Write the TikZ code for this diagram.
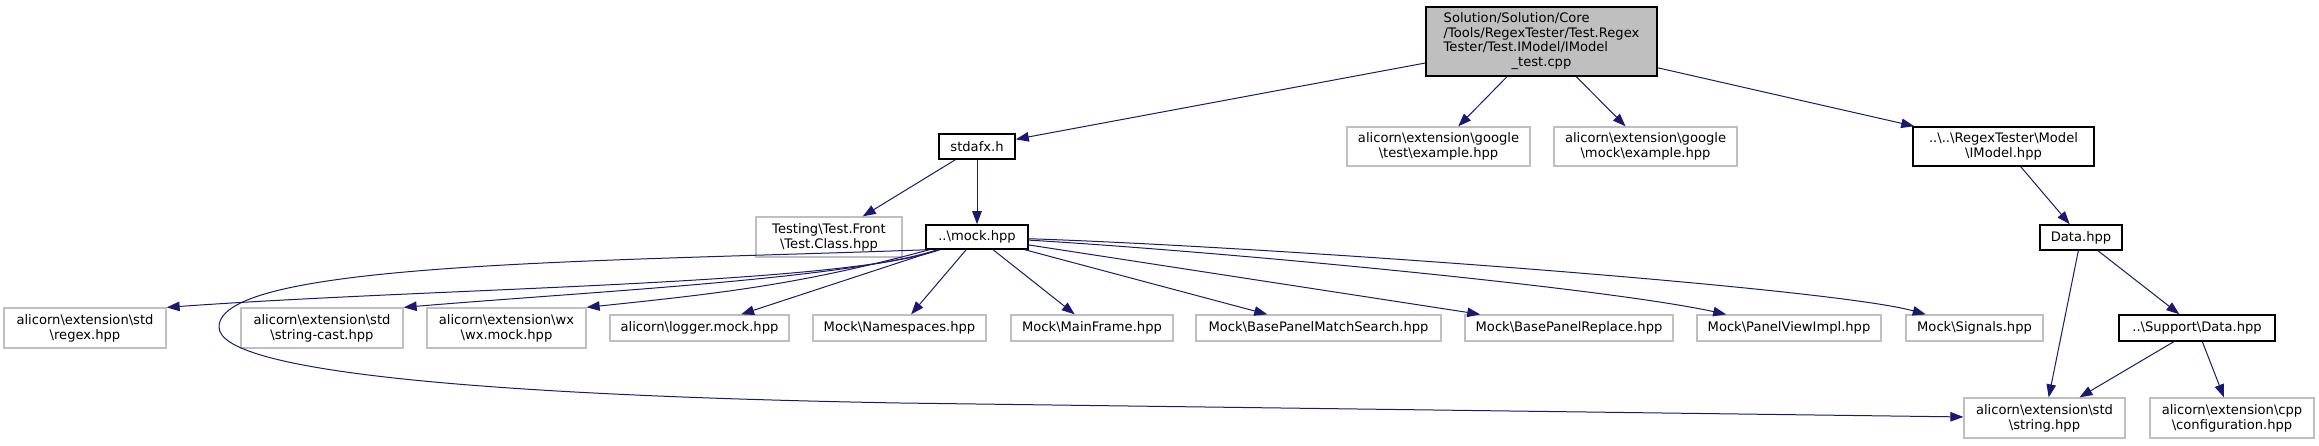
\documentclass[tikz,border=0pt]{standalone}
\usepackage{fontspec}
\setmainfont{DejaVu Sans}
\usetikzlibrary{arrows.meta}
\definecolor{edgeblue}{HTML}{191970}
\definecolor{boxgray}{HTML}{BFBFBF}
\newcommand{\bsl}{\textbackslash}

\begin{document}
\begin{tikzpicture}[
    x=1pt, y=-1pt,
    every node/.style={font=\fontsize{13.1}{14.8}\selectfont,
                       inner sep=0pt, align=center},
    sz/.style 2 args={minimum width=#1pt, minimum height=#2pt},
    docnode/.style={draw=black, line width=1.6pt, fill=white},
    extnode/.style={draw=boxgray, line width=1.3pt, fill=white},
    rootnode/.style={draw=black, line width=1.6pt, fill=boxgray},
    dep/.style={draw=edgeblue, line width=1pt,
                -{Triangle[length=13pt,width=9.5pt]}},
  ]
  \useasboundingbox (0,0) rectangle (2319,445);

  % top
  \node[rootnode, sz={231}{69}] (root) at (1541.5,41.5)
    {\begin{tabular}{@{}l@{}}Solution/Solution/Core\\
     /Tools/RegexTester/Test.Regex\\
     Tester/Test.IModel/IModel\\
     \multicolumn{1}{@{}c@{}}{\_test.cpp}\end{tabular}};

  % level 1
  \node[docnode, sz={76}{25}]  (stdafx) at (977,146.5) {stdafx.h};
  \node[extnode, sz={183}{39}] (gtest)  at (1438.5,146.5)
    {alicorn\bsl extension\bsl google\\\bsl test\bsl example.hpp};
  \node[extnode, sz={183}{39}] (gmock)  at (1645.5,146.5)
    {alicorn\bsl extension\bsl google\\\bsl mock\bsl example.hpp};
  \node[docnode, sz={181}{39}] (imodel) at (2003.5,146.5)
    {..\bsl ..\bsl RegexTester\bsl Model\\\bsl IModel.hpp};

  % level 2
  \node[extnode, sz={146}{40}] (testfront) at (829,237)
    {Testing\bsl Test.Front\\\bsl Test.Class.hpp};
  \node[docnode, sz={102}{24}] (mock) at (977,237) {..\bsl mock.hpp};
  \node[docnode, sz={82}{25}]  (data) at (2081,237.5) {Data.hpp};

  % level 3
  \node[extnode, sz={162}{40}] (regex)   at (85,328)
    {alicorn\bsl extension\bsl std\\\bsl regex.hpp};
  \node[extnode, sz={162}{40}] (strcast) at (322,328)
    {alicorn\bsl extension\bsl std\\\bsl string-cast.hpp};
  \node[extnode, sz={159}{40}] (wxmock)  at (506.5,328)
    {alicorn\bsl extension\bsl wx\\\bsl wx.mock.hpp};
  \node[extnode, sz={179}{26}] (logger)  at (699.5,328)
    {alicorn\bsl logger.mock.hpp};
  \node[extnode, sz={173}{26}] (namespaces)  at (899.5,328)
    {Mock\bsl Namespaces.hpp};
  \node[extnode, sz={162}{26}] (mainframe)   at (1092,328)
    {Mock\bsl MainFrame.hpp};
  \node[extnode, sz={245}{26}] (matchsearch) at (1318.5,328)
    {Mock\bsl BasePanelMatchSearch.hpp};
  \node[extnode, sz={208}{26}] (replace)     at (1569,328)
    {Mock\bsl BasePanelReplace.hpp};
  \node[extnode, sz={184}{26}] (panelview)   at (1789,328)
    {Mock\bsl PanelViewImpl.hpp};
  \node[extnode, sz={137}{26}] (signals)     at (1974.5,328)
    {Mock\bsl Signals.hpp};
  \node[docnode, sz={156}{26}] (supportdata) at (2197,328)
    {..\bsl Support\bsl Data.hpp};

  % level 4
  \node[extnode, sz={161}{40}] (string) at (2044.5,418)
    {alicorn\bsl extension\bsl std\\\bsl string.hpp};
  \node[extnode, sz={164}{40}] (config) at (2232,418)
    {alicorn\bsl extension\bsl cpp\\\bsl configuration.hpp};

  \coordinate (loopturn) at (219,327);
  \coordinate (loopend)  at (900,403);

  % includes
  \draw[dep] (root) -- (stdafx);
  \draw[dep] (root) -- (gtest);
  \draw[dep] (root) -- (gmock);
  \draw[dep] (root) -- (imodel);
  \draw[dep] (stdafx) -- (testfront);
  \draw[dep] (stdafx) -- (mock);
  \draw[dep] (imodel) -- (data);
  \draw[dep] (mock) .. controls +(-140,48) and +(280,-20) .. (regex.north east);
  \draw[dep] (mock) .. controls +(-130,42) and +(190,-16) .. (strcast.north east);
  \draw[dep] (mock) to[out=195,in=6] (wxmock.north east);
  \draw[dep] (mock) -- (logger);
  \draw[dep] (mock) -- (namespaces);
  \draw[dep] (mock) -- (mainframe);
  \draw[dep] (mock) -- (matchsearch);
  \draw[dep] (mock) -- (replace);
  \draw[dep] (mock) .. controls +(250,15) and +(-184,-40) .. (panelview);
  \draw[dep] (mock) .. controls +(300,10) and +(-143,-40) .. (signals);
  \draw[dep] (mock.south west) .. controls +(-330,12) and +(0,-65) .. (loopturn)
    .. controls +(0,48) and +(-380,-7) .. (loopend) -- (string);
  \draw[dep] (data) -- (supportdata);
  \draw[dep] (data) -- (string);
  \draw[dep] (supportdata) -- (string);
  \draw[dep] (supportdata) -- (config);
\end{tikzpicture}
\end{document}
